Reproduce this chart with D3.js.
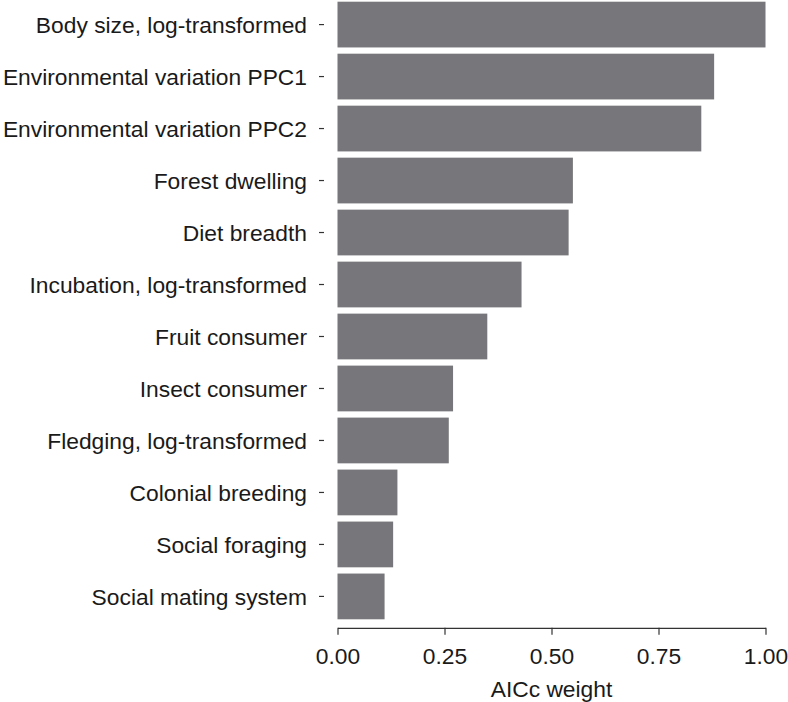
<!DOCTYPE html>
<html>
<head>
<meta charset="utf-8">
<script src="https://cdn.jsdelivr.net/npm/d3@7"></script>
<style>
  body { margin: 0; background: #fff; }
  text { font-family: "Liberation Sans", Arial, sans-serif; fill: #1a1a1a; }
</style>
</head>
<body>
<div id="chart"></div>
<script>
// chart data, top to bottom
const predictors = [
  "Body size, log-transformed",
  "Environmental variation PPC1",
  "Environmental variation PPC2",
  "Forest dwelling",
  "Diet breadth",
  "Incubation, log-transformed",
  "Fruit consumer",
  "Insect consumer",
  "Fledging, log-transformed",
  "Colonial breeding",
  "Social foraging",
  "Social mating system"
];
const weights = [1.00, 0.88, 0.85, 0.55, 0.54, 0.43, 0.35, 0.27, 0.26, 0.14, 0.13, 0.11];
const xTicks = [0, 0.25, 0.5, 0.75, 1.0];
const xTitle = "AICc weight";

const width = 788;
const height = 702;
const margin = { top: 1.7, left: 337.5, bottom: 82.7, right: 22.5 };

const barColor = "#77777b";
const axisColor = "#333333";
const fontSize = "22.8px";

const svg = d3.select("#chart")
  .append("svg")
  .attr("width", width)
  .attr("height", height);

const x = d3.scaleLinear()
  .domain([0, 1])
  .range([margin.left, width - margin.right]);

const y = d3.scaleBand()
  .domain(predictors)
  .range([margin.top, height - margin.bottom])
  .paddingInner(0.12)
  .paddingOuter(0);

// bars
svg.append("g")
  .selectAll("rect")
  .data(predictors)
  .enter()
  .append("rect")
  .attr("x", x(0))
  .attr("y", function(d) { return y(d); })
  .attr("width", function(d, i) { return x(weights[i]) - x(0); })
  .attr("height", y.bandwidth())
  .attr("fill", barColor);

// y axis: labels with short ticks, no domain line
const yAxis = svg.append("g")
  .attr("transform", "translate(" + (margin.left - 13.5) + ",0)")
  .call(d3.axisLeft(y).tickSize(5).tickPadding(12));
yAxis.select(".domain").remove();
yAxis.selectAll(".tick line").attr("stroke", axisColor).attr("stroke-width", 1.2);
yAxis.selectAll(".tick text")
  .attr("x", -17)
  .attr("dy", "0.38em")
  .style("font-size", fontSize)
  .attr("fill", "#1a1a1a");

// x axis
const axisY = height - margin.bottom + 8.5;
const xAxis = svg.append("g")
  .attr("transform", "translate(0," + axisY + ")")
  .call(d3.axisBottom(x)
    .tickValues(xTicks)
    .tickFormat(d3.format(".2f"))
    .tickSize(7)
    .tickSizeOuter(0)
    .tickPadding(13));
xAxis.select(".domain").attr("stroke", axisColor).attr("stroke-width", 1.2);
xAxis.selectAll(".tick line").attr("stroke", axisColor).attr("stroke-width", 1.2);
xAxis.selectAll(".tick text")
  .style("font-size", fontSize)
  .attr("fill", "#1a1a1a");

// x axis title
svg.append("text")
  .attr("x", (x(0) + x(1)) / 2)
  .attr("y", 697)
  .attr("text-anchor", "middle")
  .style("font-size", fontSize)
  .text(xTitle);
</script>
</body>
</html>
